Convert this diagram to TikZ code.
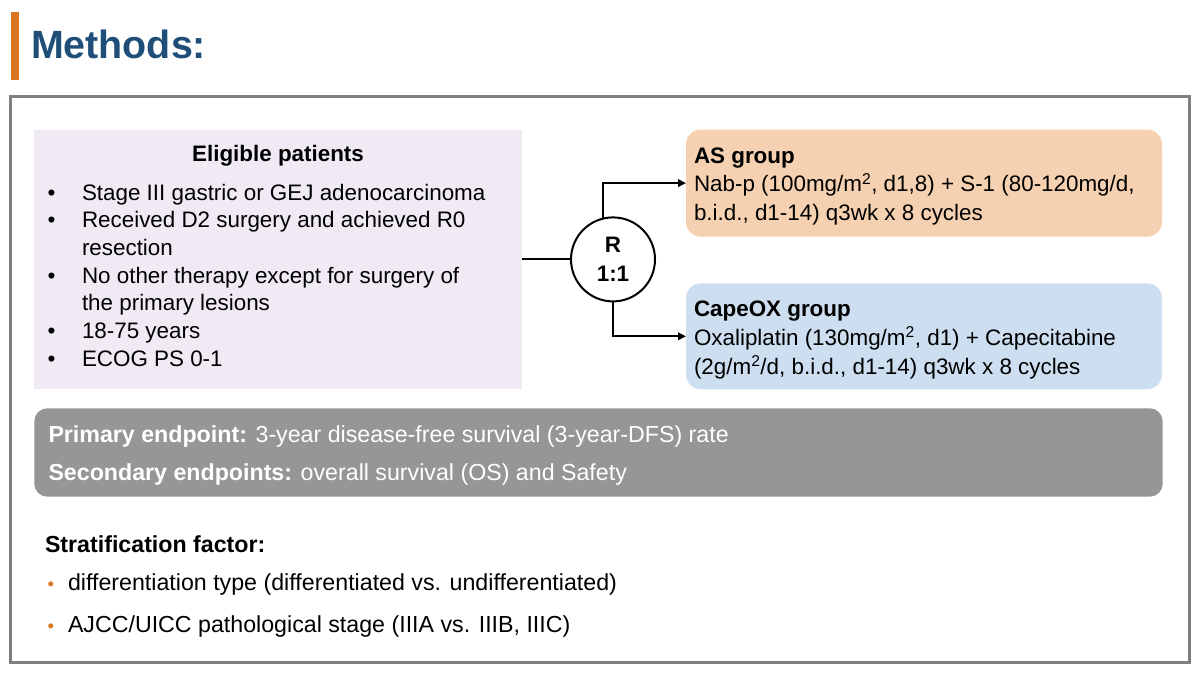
\documentclass[tikz,border=0pt]{standalone}
\usepackage{fontspec}
\setmainfont{Liberation Sans}
\usetikzlibrary{arrows.meta}
\definecolor{framegray}{RGB}{127,127,127}
\definecolor{titleblue}{RGB}{31,78,121}
\definecolor{barorange}{RGB}{217,116,33}
\definecolor{lavender}{RGB}{239,234,244}
\definecolor{asorange}{RGB}{245,209,177}
\definecolor{capeblue}{RGB}{204,222,239}
\definecolor{endgray}{RGB}{150,150,150}
\begin{document}
\begin{tikzpicture}[x=1pt,y=-1pt,
  box/.style={rectangle,inner sep=0pt,outer sep=0pt,draw=none},
  txt/.style={anchor=base west,inner sep=0pt,outer sep=0pt,font=\fontsize{22.4}{28}\selectfont},
  btxt/.style={txt,font=\fontsize{22.4}{28}\selectfont\bfseries},
  ltxt/.style={anchor=base west,inner sep=0pt,outer sep=0pt,font=\fontsize{23.2}{28}\selectfont},
  bul/.style={anchor=base west,inner sep=0pt,outer sep=0pt,font=\fontsize{22.4}{28}\selectfont},
  sbul/.style={anchor=base west,inner sep=0pt,outer sep=0pt,text=barorange,font=\fontsize{18.5}{22}\selectfont},
  conn/.style={line width=2pt,draw=black},
  arr/.style={conn,-{Triangle[length=8pt,width=7.5pt]}}
]
\useasboundingbox (0,0) rectangle (1200,675);
\fill[white] (0,0) rectangle (1200,675);

% title
\fill[barorange] (11,11.7) rectangle (19.3,80);
\node[anchor=base west,inner sep=0pt,text=titleblue,font=\fontsize{39.4}{44}\selectfont\bfseries] (title) at (30.8,58.3) {Methods:};

% outer frame
\draw[framegray,line width=3pt] (10.7,96.7) rectangle (1189.3,662.3);

% boxes
\node[box,fill=lavender,minimum width=487.7pt,minimum height=259.8pt] (elig) at (278.15,259.4) {};
\node[box,fill=asorange,rounded corners=15pt,minimum width=476pt,minimum height=107.2pt] (as) at (924,183.1) {};
\node[box,fill=capeblue,rounded corners=15pt,minimum width=476pt,minimum height=106pt] (cape) at (924,336.3) {};
\node[box,fill=endgray,rounded corners=13pt,minimum width=1128.4pt,minimum height=88.4pt] (endp) at (598.5,452.5) {};

% randomisation circle
\node[circle,draw,line width=2pt,fill=white,minimum size=84pt,inner sep=0pt,align=center,
      font=\fontsize{22.4}{28.7}\selectfont\bfseries] (R) at (613,259.4) {R\\1:1};

% connectors
\draw[conn] (elig.east) -- (R.west);
\draw[arr] (R.103.4) |- (as.west);
\draw[arr] (R.south) |- (cape.west);

% eligible patients
\node[btxt,anchor=base] (eligt) at (278,161.2) {Eligible patients};
\node[bul] (b1) at (47.5,200) {•};
\node[txt] (e1) at (82,200) {Stage III gastric or GEJ adenocarcinoma};
\node[bul] (b2) at (47.5,227.7) {•};
\node[txt] (e2) at (82,227.7) {Received D2 surgery and achieved R0};
\node[txt] (e2b) at (82,255.4) {resection};
\node[bul] (b3) at (47.5,283.1) {•};
\node[txt] (e3) at (82,283.1) {No other therapy except for surgery of};
\node[txt] (e3b) at (82,310.8) {the primary lesions};
\node[bul] (b4) at (47.5,338.5) {•};
\node[txt] (e4) at (82,338.5) {18-75 years};
\node[bul] (b5) at (47.5,366.2) {•};
\node[txt] (e5) at (82,366.2) {ECOG PS 0-1};

% AS group
\node[btxt] (ast) at (694,163) {AS group};
\node[txt] (as1) at (694,191.7) {Nab-p (100mg/m\textsuperscript{2}, d1,8) + S-1 (80-120mg/d,};
\node[txt] (as2) at (694,220.2) {b.i.d., d1-14) q3wk x 8 cycles};

% CapeOX group
\node[btxt] (capet) at (694,316.8) {CapeOX group};
\node[txt] (cp1) at (694,345.5) {Oxaliplatin (130mg/m\textsuperscript{2}, d1) + Capecitabine};
\node[txt] (cp2) at (694,374) {(2g/m\textsuperscript{2}/d, b.i.d., d1-14) q3wk x 8 cycles};

% endpoints
\node[ltxt,text=white] (pe) at (48.5,442.7) {\textbf{Primary endpoint:} 3-year disease-free survival (3-year-DFS) rate};
\node[ltxt,text=white] (se) at (48.5,480.7) {\textbf{Secondary endpoints:} overall survival (OS) and Safety};

% stratification
\node[ltxt,font=\fontsize{23.2}{28}\selectfont\bfseries] (st) at (45,552.7) {Stratification factor:};
\node[sbul] (s1b) at (47.5,590.7) {•};
\node[ltxt] (s1) at (68,590.7) {differentiation type (differentiated vs. undifferentiated)};
\node[sbul] (s2b) at (47.5,632.7) {•};
\node[ltxt] (s2) at (68,632.7) {AJCC/UICC pathological stage (IIIA vs. IIIB, IIIC)};
\end{tikzpicture}
\end{document}
